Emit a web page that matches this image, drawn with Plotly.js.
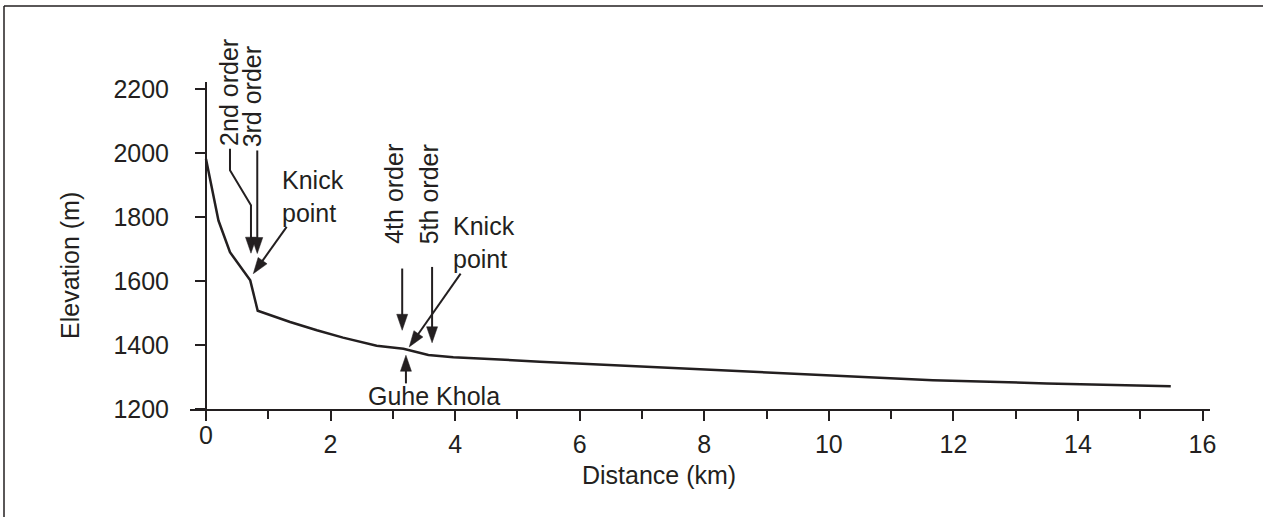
<!DOCTYPE html>
<html>
<head>
<meta charset="utf-8">
<script src="https://cdn.plot.ly/plotly-3.0.1.min.js"></script>
<style>html,body{margin:0;padding:0;background:#fff;}#chart{width:1263px;height:517px;}</style>
</head>
<body>
<div id="chart"></div>
<script>
// ---- data ----
const distanceKm = [0, 0.2, 0.385, 0.71, 0.83, 1.03, 1.35, 1.78, 2.2, 2.74, 3.17, 3.57, 3.97, 5.36, 6, 8, 10, 11.67, 13.5, 15.49];
const elevationM = [1981, 1789, 1690, 1602, 1507, 1493, 1472, 1446, 1423, 1398, 1388, 1369, 1362, 1348, 1342, 1324, 1305, 1290, 1280, 1271];
const xTickVals = [0, 2, 4, 6, 8, 10, 12, 14, 16];
const xMinorVals = [1, 3, 5, 7, 9, 11, 13, 15];
const yTickVals = [1200, 1400, 1600, 1800, 2000, 2200];

// annotation labels (data coords)
const labels = [
  {text: '2nd order', x: 0.369, y: 2191, angle: -90},
  {text: '3rd order', x: 0.738, y: 2177, angle: -90},
  {text: 'Knick<br>point', x: 1.188, y: 1864, angle: 0, left: true},
  {text: '4th order', x: 3.026, y: 1874, angle: -90},
  {text: '5th order', x: 3.58, y: 1871, angle: -90},
  {text: 'Knick<br>point', x: 3.93, y: 1720, angle: 0, left: true},
  {text: 'Guhe Khola', x: 3.66, y: 1240, angle: 0}
];
// arrows: list of points (data coords), last point is the tip
const arrows = [
  [[0.385, 2013], [0.385, 1946], [0.722, 1837], [0.722, 1687]],
  [[0.823, 2008], [0.823, 1686]],
  [[1.295, 1769], [0.759, 1623]],
  [[3.15, 1639], [3.15, 1446]],
  [[3.63, 1644], [3.63, 1407]],
  [[4.088, 1623], [3.263, 1394]],
  [[3.21, 1280], [3.21, 1368]]
];

// ---- layout geometry ----
const W = 1263, H = 517, L = 190, R = 53, T = 82, B = 108;
const xr = [-0.257, 16.12], yr = [1200, 2222];
const pw = W - L - R, ph = H - T - B;
const px = x => L + (x - xr[0]) / (xr[1] - xr[0]) * pw;
const py = y => T + (yr[1] - y) / (yr[1] - yr[0]) * ph;
const dx = p => xr[0] + (p - L) / pw * (xr[1] - xr[0]);
const dy = p => yr[1] - (p - T) / ph * (yr[1] - yr[0]);

const ink = '#231f20';
const fontFam = 'Liberation Sans, Arial, Helvetica, sans-serif';
const FS = 25;

const shapes = [];
const headLen = 16, headHalf = 5.5;
arrows.forEach(pts => {
  const n = pts.length;
  const tip = pts[n - 1], prev = pts[n - 2];
  const tx = px(tip[0]), ty = py(tip[1]);
  const ux0 = tx - px(prev[0]), uy0 = ty - py(prev[1]);
  const len = Math.hypot(ux0, uy0);
  const ux = ux0 / len, uy = uy0 / len;
  const bx = tx - ux * headLen, by = ty - uy * headLen;
  // shaft
  let path = 'M' + pts.slice(0, n - 1).map(p => p[0] + ',' + p[1]).join(' L');
  path += ' L' + dx(bx + ux * 3) + ',' + dy(by + uy * 3);
  shapes.push({type: 'path', xref: 'x', yref: 'y', path: path, line: {color: ink, width: 2}});
  // head
  const p1 = [bx - uy * headHalf, by + ux * headHalf];
  const p2 = [bx + uy * headHalf, by - ux * headHalf];
  const hp = 'M' + tip[0] + ',' + tip[1] + ' L' + dx(p1[0]) + ',' + dy(p1[1]) + ' L' + dx(p2[0]) + ',' + dy(p2[1]) + ' Z';
  shapes.push({type: 'path', xref: 'x', yref: 'y', path: hp, fillcolor: ink, line: {color: ink, width: 0.5}});
});
// outer frame (top and left edges)
const ppx = p => (p - L) / pw, ppy = p => (H - B - p) / ph;
shapes.push({type: 'line', xref: 'paper', yref: 'paper', x0: ppx(4), x1: ppx(1263), y0: ppy(6), y1: ppy(6), line: {color: ink, width: 1.5}});
shapes.push({type: 'line', xref: 'paper', yref: 'paper', x0: ppx(4), x1: ppx(4), y0: ppy(6), y1: ppy(517), line: {color: ink, width: 1.5}});

const annotations = labels.map(l => ({
  text: l.text, x: l.x, y: l.y, xref: 'x', yref: 'y', showarrow: false,
  textangle: l.angle, xanchor: l.left ? 'left' : 'center', yanchor: 'middle', align: l.left ? 'left' : 'center',
  font: {family: fontFam, size: FS, color: ink}
}));
// axis titles
annotations.push({text: 'Distance (km)', xref: 'paper', yref: 'paper', x: ppx(659), y: ppy(475), showarrow: false,
  xanchor: 'center', yanchor: 'middle', font: {family: fontFam, size: FS, color: ink}});
annotations.push({text: 'Elevation (m)', xref: 'paper', yref: 'paper', x: ppx(70), y: ppy(266), showarrow: false, textangle: -90,
  xanchor: 'center', yanchor: 'middle', font: {family: fontFam, size: FS, color: ink}});
// the 0 tick label sits a bit higher than the others
annotations.push({text: '0', xref: 'x', yref: 'paper', x: 0, y: ppy(435), showarrow: false,
  xanchor: 'center', yanchor: 'middle', font: {family: fontFam, size: FS, color: ink}});

const trace = {x: distanceKm, y: elevationM, type: 'scatter', mode: 'lines',
  line: {color: ink, width: 2.5}, hoverinfo: 'skip'};

const layout = {
  width: W, height: H, margin: {l: L, r: R, t: T, b: B, pad: 0},
  paper_bgcolor: '#fff', plot_bgcolor: '#fff', showlegend: false,
  font: {family: fontFam, size: FS, color: ink},
  xaxis: {range: xr, showgrid: false, zeroline: false, showline: true, linecolor: ink, linewidth: 2,
    ticks: 'outside', ticklen: 10, tickwidth: 2, tickcolor: ink,
    tickvals: xTickVals, ticktext: xTickVals.map(v => v === 0 ? '' : String(v)),
    ticklabelstandoff: 2, tickfont: {family: fontFam, size: FS, color: ink},
    minor: {tickvals: xMinorVals, ticks: 'outside', ticklen: 8, tickwidth: 2, tickcolor: ink, showgrid: false}},
  yaxis: {range: yr, anchor: 'free', position: 16 / pw, showgrid: false, zeroline: false, showline: true,
    linecolor: ink, linewidth: 2, ticks: 'outside', ticklen: 10, tickwidth: 2, tickcolor: ink,
    tickvals: yTickVals, ticklabelstandoff: 21, tickfont: {family: fontFam, size: FS, color: ink}},
  shapes: shapes, annotations: annotations
};
Plotly.newPlot('chart', [trace], layout, {staticPlot: true, displayModeBar: false});
</script>
</body>
</html>
